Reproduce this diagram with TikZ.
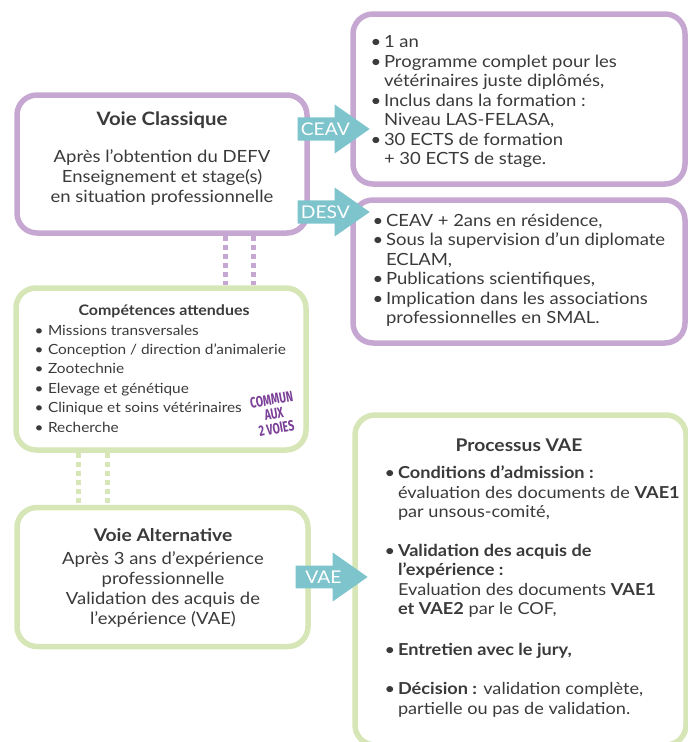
\documentclass[tikz,border=0pt]{standalone}
\usepackage{fontspec}
\setmainfont{Lato}[FakeStretch=1.1]
\newfontfamily\condensee{Fira Sans}[FakeStretch=0.7]
\usetikzlibrary{shapes.arrows}

\definecolor{mauve}{HTML}{C6A7D2}
\definecolor{sauge}{HTML}{D6E6B6}
\definecolor{turquoise}{HTML}{7EC4CC}
\definecolor{gristexte}{HTML}{3A3A3A}
\definecolor{violetfonce}{HTML}{7A3E96}

\newcommand{\puce}{\makebox[13.5pt][l]{\textbullet}}
\newcommand{\suite}{\hspace*{13.5pt}}

\begin{document}
\begin{tikzpicture}[x=1pt,y=-1pt,
    every node/.style={text=gristexte},
    boite/.style={draw, line width=5.5pt, rounded corners=20pt, minimum width=#1},
    boitemauve/.style={boite=#1, draw=mauve},
    boiteverte/.style={boite=#1, draw=sauge},
    titre/.style={font=\fontsize{17.5}{20}\selectfont\bfseries},
    corps/.style={font=\fontsize{16.8}{20}\selectfont, align=center},
    liste/.style={font=\fontsize{16.8}{19.5}\selectfont, align=left, anchor=west},
    fleche/.style={single arrow, draw=none, fill=turquoise, text=white,
        font=\fontsize{17.5}{17.5}\selectfont, single arrow head extend=13pt,
        single arrow tip angle=70, minimum height=72pt, inner ysep=5pt,
        inner xsep=-5pt, anchor=tip},
    pointille/.style={line width=5pt, dash pattern=on 5pt off 4pt}
  ]
  \useasboundingbox (0,0) rectangle (688,742);

  % les boites
  \node[boitemauve=290pt, minimum height=138pt] (classique) at (162,164) {};
  \node[boitemauve=332pt, minimum height=170pt] (ceav) at (519,99) {};
  \node[boitemauve=332pt, minimum height=143pt] (desv) at (519,271.5) {};
  \node[boiteverte=290pt, minimum height=162pt] (competences) at (161,369) {};
  \node[boiteverte=291pt, minimum height=139pt] (alternative) at (162.5,577) {};
  \node[boiteverte=331pt, minimum height=330pt] (processus) at (520.5,580) {};

  % textes
  \node[titre, font=\fontsize{18.5}{20}\selectfont\bfseries] (titreclassique) at (162,120) {Voie Classique};
  \node[corps] (texteclassique) at (162,178) {Après l’obtention du DEFV\\
    Enseignement et stage(s)\\ en situation professionnelle};

  \node[liste] (texteceav) at (367,101.5) {\puce 1 an\\
    \puce Programme complet pour les\\
    \suite vétérinaires juste diplômés,\\
    \puce Inclus dans la formation :\\
    \suite Niveau LAS-FELASA,\\
    \puce 30 ECTS de formation\\
    \suite + 30 ECTS de stage.};

  \node[liste] (textedesv) at (369,270) {\puce CEAV + 2ans en résidence,\\
    \puce Sous la supervision d’un diplomate\\
    \suite ECLAM,\\
    \puce Publications scientifiques,\\
    \puce Implication dans les associations\\
    \suite professionnelles en SMAL.};

  \node[font=\fontsize{14.5}{16}\selectfont\bfseries] (titrecompetences) at (164,311)
    {Compétences attendues};
  \node[liste, font=\fontsize{14}{19.4}\selectfont] (textecompetences) at (31,378.5)
    {\puce Missions transversales\\
    \puce Conception / direction d’animalerie\\
    \puce Zootechnie\\
    \puce Elevage et génétique\\
    \puce Clinique et soins vétérinaires\\
    \puce Recherche};
  \node[rotate=10, text=violetfonce, align=center,
    font=\condensee\fontsize{15}{14.5}\selectfont\bfseries] (commun) at (274,414)
    {COMMUN\\ AUX\\ 2 VOIES};

  \node[titre] (titrealternative) at (163,535) {Voie Alternative};
  \node[corps] (textealternative) at (163,590) {Après 3 ans d’expérience\\
    professionnelle\\ Validation des acquis de\\ l’expérience (VAE)};

  \node[titre] (titreprocessus) at (519,445) {Processus VAE};
  \node[liste, font=\fontsize{16.5}{19.5}\selectfont] (texteprocessus) at (381,591.5)
    {\puce \textbf{Conditions d’admission :}\\
    \suite évaluation des documents de \textbf{VAE1}\\
    \suite par unsous-comité,\\[19pt]
    \puce \textbf{Validation des acquis de}\\
    \suite \textbf{l’expérience :}\\
    \suite Evaluation des documents \textbf{VAE1}\\
    \suite \textbf{et VAE2} par le COF,\\[21pt]
    \puce \textbf{Entretien avec le jury,}\\[20pt]
    \puce \textbf{Décision :} validation complète,\\
    \suite partielle ou pas de validation.};

  % liens pointilles
  \coordinate (p1) at (225,0);
  \coordinate (p2) at (253,0);
  \coordinate (v1) at (78,0);
  \coordinate (v2) at (107,0);
  \draw[pointille, mauve] (classique.south -| p1) -- (competences.north -| p1);
  \draw[pointille, mauve] (classique.south -| p2) -- (competences.north -| p2);
  \draw[pointille, sauge] (competences.south -| v1) -- (alternative.north -| v1);
  \draw[pointille, sauge] (competences.south -| v2) -- (alternative.north -| v2);

  % fleches
  \node[fleche] (flecheceav) at (370,129) {CEAV};
  \node[fleche] (flechedesv) at (370,212) {DESV};
  \node[fleche] (flechevae) at (368,577) {VAE};
\end{tikzpicture}
\end{document}
